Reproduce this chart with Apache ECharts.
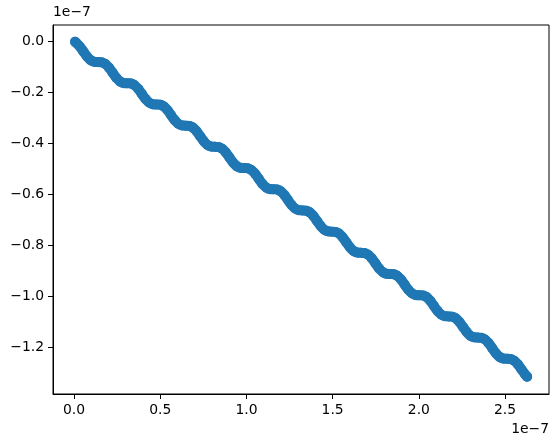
<!DOCTYPE html>
<html>
<head>
<meta charset="utf-8">
<script src="https://cdn.jsdelivr.net/npm/echarts@6.0.0/dist/echarts.min.js"></script>
<style>
html, body { margin: 0; padding: 0; background: #fff; }
#chart { width: 559px; height: 446px; }
</style>
</head>
<body>
<div id="chart"></div>
<script>
// values are in units of 1e-7 (matplotlib offset text)
var xValues = [
	0.006, 0.0120, 0.0331, 0.0543, 0.0755, 0.0967, 0.1178,
	0.1390, 0.1602, 0.1813, 0.2025, 0.2237, 0.2449, 0.2660, 0.2872,
	0.3084, 0.3296, 0.3507, 0.3719, 0.3931, 0.4143, 0.4354, 0.4566,
	0.4778, 0.4990, 0.5201, 0.5413, 0.5625, 0.5837, 0.6048, 0.6260,
	0.6472, 0.6684, 0.6895, 0.7107, 0.7319, 0.7531, 0.7742, 0.7954,
	0.8166, 0.8378, 0.8589, 0.8801, 0.9013, 0.9225, 0.9436, 0.9648,
	0.9860, 1.0072, 1.0283, 1.0495, 1.0707, 1.0919, 1.1130, 1.1342,
	1.1554, 1.1766, 1.1977, 1.2189, 1.2401, 1.2613, 1.2824, 1.3036,
	1.3248, 1.3460, 1.3671, 1.3883, 1.4095, 1.4307, 1.4518, 1.4730,
	1.4942, 1.5154, 1.5365, 1.5577, 1.5789, 1.6001, 1.6212, 1.6424,
	1.6636, 1.6848, 1.7059, 1.7271, 1.7483, 1.7695, 1.7906, 1.8118,
	1.8330, 1.8542, 1.8753, 1.8965, 1.9177, 1.9389, 1.9600, 1.9812,
	2.0024, 2.0236, 2.0447, 2.0659, 2.0871, 2.1083, 2.1294, 2.1506,
	2.1718, 2.1930, 2.2141, 2.2353, 2.2565, 2.2777, 2.2988, 2.3200,
	2.3412, 2.3624, 2.3835, 2.4047, 2.4259, 2.4471, 2.4682, 2.4894,
	2.5106, 2.5318, 2.5529, 2.5741, 2.5953, 2.6165, 2.6280
];
var yValues = [
	-0.003, -0.0068, -0.0211, -0.0408, -0.0606, -0.0748, -0.0814,
	-0.0824, -0.0834, -0.0899, -0.1042, -0.1239, -0.1437, -0.1580, -0.1645,
	-0.1655, -0.1665, -0.1730, -0.1873, -0.2071, -0.2268, -0.2411, -0.2476,
	-0.2486, -0.2497, -0.2562, -0.2704, -0.2902, -0.3099, -0.3242, -0.3307,
	-0.3317, -0.3328, -0.3393, -0.3535, -0.3733, -0.3930, -0.4073, -0.4138,
	-0.4148, -0.4159, -0.4224, -0.4366, -0.4564, -0.4761, -0.4904, -0.4969,
	-0.4979, -0.4990, -0.5055, -0.5197, -0.5395, -0.5592, -0.5735, -0.5800,
	-0.5810, -0.5821, -0.5886, -0.6028, -0.6226, -0.6423, -0.6566, -0.6631,
	-0.6641, -0.6652, -0.6717, -0.6859, -0.7057, -0.7254, -0.7397, -0.7462,
	-0.7473, -0.7483, -0.7548, -0.7691, -0.7888, -0.8086, -0.8228, -0.8293,
	-0.8304, -0.8314, -0.8379, -0.8522, -0.8719, -0.8917, -0.9059, -0.9125,
	-0.9135, -0.9145, -0.9210, -0.9353, -0.9550, -0.9748, -0.9891, -0.9956,
	-0.9966, -0.9976, -1.0041, -1.0184, -1.0382, -1.0579, -1.0722, -1.0787,
	-1.0797, -1.0807, -1.0873, -1.1015, -1.1213, -1.1410, -1.1553, -1.1618,
	-1.1628, -1.1639, -1.1704, -1.1846, -1.2044, -1.2241, -1.2384, -1.2449,
	-1.2459, -1.2470, -1.2535, -1.2677, -1.2875, -1.3072, -1.3160
];
var xTicks = [0, 0.5, 1.0, 1.5, 2.0, 2.5];
var yTicks = [0, -0.2, -0.4, -0.6, -0.8, -1.0, -1.2];
var offsetText = '1e\u22127';

var points = [];
for (var i = 0; i < xValues.length; i++) {
	points.push([xValues[i], yValues[i]]);
}

function tickLabel(v) {
	return v.toFixed(1).replace('-', '\u2212');
}

var font = '"DejaVu Sans", sans-serif';
var blue = '#1f77b4';

var axisCommon = {
	type: 'value',
	scale: true,
	splitLine: { show: false },
	axisLine: { show: true, onZero: false, lineStyle: { color: '#000', width: 1 } },
	axisTick: { show: true, length: 5, lineStyle: { color: '#000', width: 1 } },
	axisLabel: { color: '#000', fontSize: 13.9, fontFamily: font, margin: 9, formatter: tickLabel }
};

var myChart = echarts.init(document.getElementById('chart'));
myChart.setOption({
	animation: false,
	backgroundColor: '#fff',
	grid: { left: 53, right: 10, top: 25, bottom: 52, show: true, borderColor: '#000', borderWidth: 1, backgroundColor: 'transparent' },
	xAxis: echarts.util.merge({
		min: -0.122, max: 2.755,
		axisTick: { customValues: xTicks },
		axisLabel: { customValues: xTicks }
	}, axisCommon),
	yAxis: echarts.util.merge({
		min: -1.384, max: 0.063,
		axisTick: { customValues: yTicks },
		axisLabel: { customValues: yTicks }
	}, axisCommon),
	graphic: [
		{ type: 'text', left: 53, top: 5, style: { text: offsetText, fill: '#000', font: '13.9px ' + font } },
		{ type: 'text', right: 10, top: 422, style: { text: offsetText, fill: '#000', font: '13.9px ' + font } }
	],
	series: [
		{
			type: 'line',
			data: points,
			smooth: true,
			showSymbol: false,
			silent: true,
			lineStyle: { color: blue, width: 10, cap: 'round', join: 'round' },
			z: 2
		},
		{
			type: 'scatter',
			data: points,
			symbolSize: 10,
			itemStyle: { color: blue, opacity: 1 },
			z: 3
		}
	]
});
</script>
</body>
</html>
